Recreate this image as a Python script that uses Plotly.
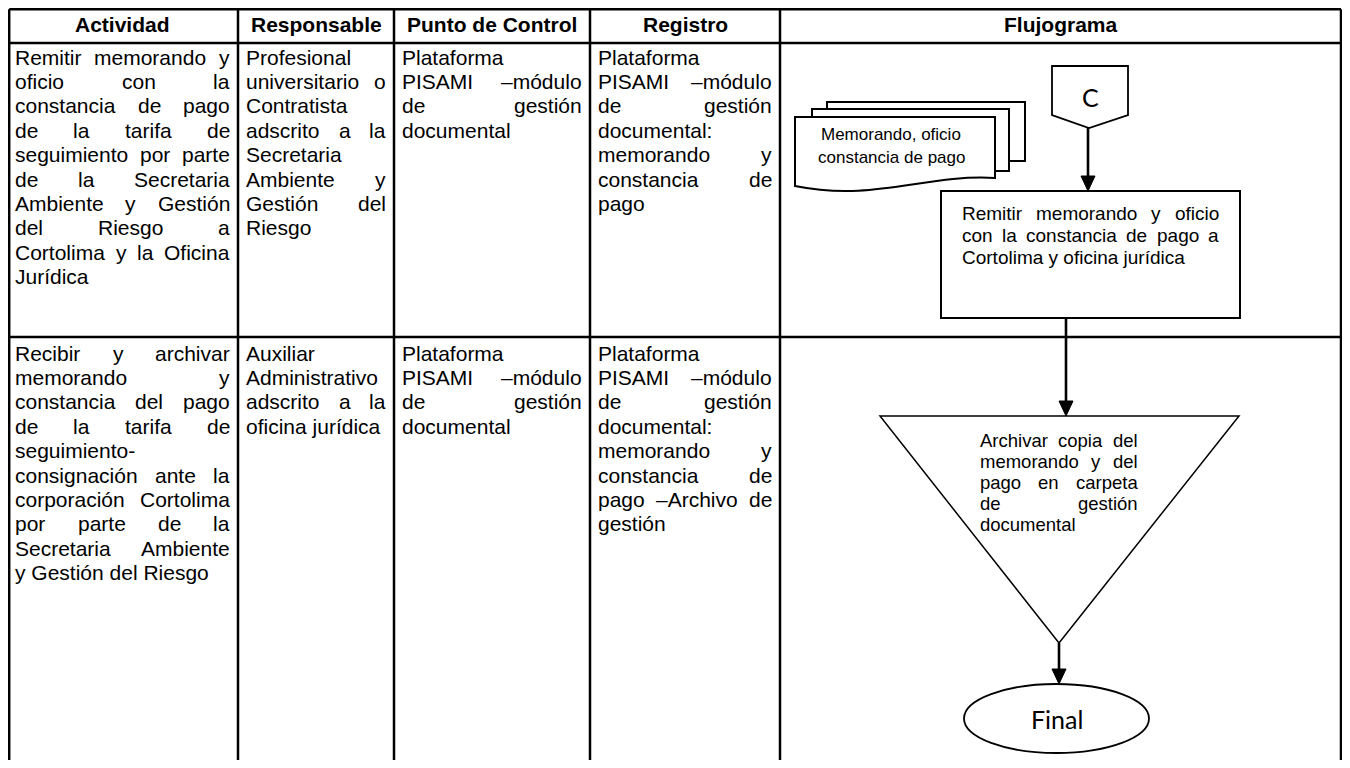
import plotly.graph_objects as go

# ---------------- data (texts) ----------------
headers = ["Actividad", "Responsable", "Punto de Control", "Registro", "Flujograma"]

actividad_lines = [
    ["Remitir memorando y", "oficio con la", "constancia de pago", "de la tarifa de",
     "seguimiento por parte", "de la Secretaria", "Ambiente y Gestión", "del Riesgo a",
     "Cortolima y  la Oficina", "Jurídica"],
    ["Recibir y archivar", "memorando y", "constancia del pago", "de la tarifa de",
     "seguimiento-", "consignación ante la", "corporación Cortolima", "por parte de la",
     "Secretaria Ambiente", "y Gestión del Riesgo"],
]
responsable_lines = [
    ["Profesional", "universitario o", "Contratista", "adscrito a la", "Secretaria",
     "Ambiente y", "Gestión del", "Riesgo"],
    ["Auxiliar", "Administrativo", "adscrito a la", "oficina jurídica"],
]
punto_lines = [
    ["Plataforma", "PISAMI –módulo", "de gestión", "documental"],
    ["Plataforma", "PISAMI –módulo", "de gestión", "documental"],
]
registro_lines = [
    ["Plataforma", "PISAMI –módulo", "de gestión", "documental:", "memorando y",
     "constancia de", "pago"],
    ["Plataforma", "PISAMI –módulo", "de gestión", "documental:", "memorando y",
     "constancia de", "pago –Archivo de", "gestión"],
]

connector_label = "C"
document_label = ["Memorando, oficio", "constancia de pago"]
process_label = ["Remitir memorando y oficio", "con la constancia de pago a",
                 "Cortolima y oficina jurídica"]
archive_label = ["Archivar copia del", "memorando y del", "pago en carpeta",
                 "de gestión", "documental"]
end_label = "Final"

# ---------------- layout constants ----------------
# page has an 8px body margin: the figure is placed at (8, 8) and the axes
# are set so that data coordinates equal page pixel coordinates.
OFF = 8
W_PX, H_PX = 1334, 752
col_edges = [9.2, 238, 394, 590, 780, 1341]
row_edges = [9.2, 43, 337, 800]
row_first_line = [57, 353]
line_step = 24.4
body_size = 21
pad = 8

ARIAL = {' ': 278, ',': 278, '-': 333, '.': 278, ':': 278, '–': 556,
         'a': 556, 'b': 556, 'c': 500, 'd': 556, 'e': 556, 'f': 278, 'g': 556, 'h': 556,
         'i': 222, 'j': 222, 'k': 500, 'l': 222, 'm': 833, 'n': 556, 'o': 556, 'p': 556,
         'q': 556, 'r': 333, 's': 500, 't': 278, 'u': 556, 'v': 500, 'w': 722, 'x': 500,
         'y': 500, 'z': 500,
         'A': 667, 'B': 667, 'C': 722, 'D': 722, 'E': 667, 'F': 611, 'G': 778, 'H': 722,
         'I': 278, 'J': 500, 'K': 667, 'L': 556, 'M': 833, 'N': 722, 'O': 778, 'P': 667,
         'Q': 778, 'R': 722, 'S': 667, 'T': 611, 'U': 722, 'V': 667, 'W': 944, 'X': 667,
         'Y': 667, 'Z': 611, 'á': 556, 'é': 556, 'í': 278, 'ó': 556, 'ú': 556}

FONT = "Liberation Sans, Arial, sans-serif"
FONT2 = "Lato, Calibri, sans-serif"


def tw(s, size):
    return sum(ARIAL.get(c, 556) for c in s) / 1000.0 * size


fig = go.Figure()
fig.add_trace(go.Scatter(x=[OFF + 1], y=[OFF + 1], mode="markers", marker=dict(opacity=0),
                         hoverinfo="skip", showlegend=False))

annotations = []
shapes = []


def ann(x, y, text, size, xanchor="left", family=FONT, bold=False):
    if bold:
        text = "<b>" + text + "</b>"
    annotations.append(dict(x=x, y=y, xref="x", yref="y", text=text, showarrow=False,
                            xanchor=xanchor, yanchor="middle", borderpad=0, borderwidth=0,
                            font=dict(family=family, size=size, color="black")))


def justified(x0, x1, y, line, size, justify):
    words = line.split()
    if not justify or len(words) == 1:
        ann(x0, y, line, size)
        return
    widths = [tw(w, size) for w in words]
    gap = (x1 - x0 - sum(widths)) / (len(words) - 1)
    x = x0
    for i, (w, wd) in enumerate(zip(words, widths)):
        if i == len(words) - 1:
            ann(x1, y, w, size, xanchor="right")
        else:
            ann(x, y, w, size)
        x += wd + gap


def block(x0, x1, y0, step, lines, size):
    for i, ln in enumerate(lines):
        justified(x0, x1, y0 + i * step, ln, size, i < len(lines) - 1)


# headers
hdr_edges = [7] + col_edges[1:]
for i, h in enumerate(headers):
    ann((hdr_edges[i] + hdr_edges[i + 1]) / 2, 24, h, body_size, xanchor="center", bold=True)

# table body
columns = [actividad_lines, responsable_lines, punto_lines, registro_lines]
for ci, col in enumerate(columns):
    x0 = hdr_edges[ci] + pad
    x1 = hdr_edges[ci + 1] - pad
    for ri, lines in enumerate(col):
        block(x0, x1, row_first_line[ri], line_step, lines, body_size)

# ---------------- flowchart shapes ----------------
# multidocument (back to front)
shapes.append(dict(type="rect", x0=827, y0=102, x1=1025, y1=161, xref="x", yref="y",
                   line=dict(color="black", width=2), fillcolor="white"))
shapes.append(dict(type="rect", x0=812, y0=109, x1=1009, y1=171, xref="x", yref="y",
                   line=dict(color="black", width=2), fillcolor="white"))
shapes.append(dict(type="path", xref="x", yref="y",
                   path="M 795,117 L 995,117 L 995,178 C 925,174 875,202 795,186 Z",
                   line=dict(color="black", width=2), fillcolor="white"))
for i, t in enumerate(document_label):
    ann(891, 134 + i * 23, t, 17, xanchor="center")

# off-page connector
shapes.append(dict(type="path", xref="x", yref="y",
                   path="M 1052,66 L 1128,66 L 1128,115 L 1089,128 L 1052,115 Z",
                   line=dict(color="black", width=1.8), fillcolor="white"))
ann(1090, 97, connector_label, 25, xanchor="center", family=FONT2)

# process box
shapes.append(dict(type="rect", x0=941, y0=191, x1=1240, y1=318, xref="x", yref="y",
                   line=dict(color="black", width=2), fillcolor="white"))
block(962, 1219, 213, 22, process_label, 19)

# archive triangle
shapes.append(dict(type="path", xref="x", yref="y",
                   path="M 880,416 L 1239,416 L 1059,643 Z",
                   line=dict(color="black", width=1.5), fillcolor="white"))
block(980, 1138, 440, 21, archive_label, 18.5)

# terminator
shapes.append(dict(type="circle", x0=964, y0=684, x1=1149, y1=753, xref="x", yref="y",
                   line=dict(color="black", width=1.8), fillcolor="white"))
ann(1057, 719, end_label, 25, xanchor="center", family=FONT2)


def arrow(x, ya, yb):
    shapes.append(dict(type="line", x0=x, x1=x, y0=ya, y1=yb - 12, xref="x", yref="y",
                       line=dict(color="black", width=2.6)))
    shapes.append(dict(type="path", xref="x", yref="y",
                       path=f"M {x-7},{yb-15} L {x+7},{yb-15} L {x},{yb} Z",
                       line=dict(color="black", width=1), fillcolor="black"))


arrow(1088, 128, 191)
arrow(1066, 318, 416)
arrow(1059, 643, 684)

# ---------------- table grid ----------------
for yv in row_edges[:3]:
    shapes.append(dict(type="line", x0=col_edges[0], x1=col_edges[-1], y0=yv, y1=yv,
                       xref="x", yref="y", line=dict(color="black", width=2.5)))
for xv in col_edges:
    shapes.append(dict(type="line", x0=xv, x1=xv, y0=row_edges[0], y1=row_edges[-1],
                       xref="x", yref="y", line=dict(color="black", width=2.5)))

fig.update_layout(
    width=W_PX, height=H_PX, margin=dict(l=0, r=0, t=0, b=0),
    paper_bgcolor="white", plot_bgcolor="white",
    xaxis=dict(range=[OFF, OFF + W_PX], visible=False, fixedrange=True),
    yaxis=dict(range=[OFF + H_PX, OFF], visible=False, fixedrange=True),
    shapes=shapes, annotations=annotations, showlegend=False,
)

fig.write_html("out.html", config={"displayModeBar": False})
